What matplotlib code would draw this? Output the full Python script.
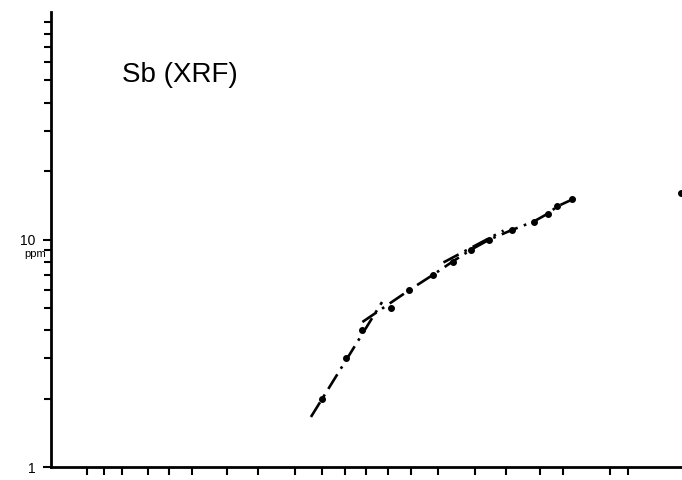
import numpy as np
import matplotlib
matplotlib.use('Agg')
import matplotlib.pyplot as plt
from statistics import NormalDist

# cumulative frequency (%) and Sb content (ppm)
cum_pct = [30.0, 40.5, 48.2, 61.5, 69.5, 78.5, 84.6, 89.1, 92.7, 95.7, 97.6, 98.4, 98.8, 99.25, 99.99]
sb_ppm = [2, 3, 4, 5, 6, 7, 8, 9, 10, 11, 12, 13, 14, 15, 16]

# hand drawn population lines
low_pct = [25.7, 57.4]
low_ppm = [1.66, 5.31]
# upper curve: starts at the crossing, then follows the points up to 15 ppm
high_pct = [48.2] + cum_pct[4:14] + [99.32]
high_ppm = [4.34] + sb_ppm[4:14] + [15.1]
mid_pct = [81.9, 94.75]
mid_ppm = [7.93, 10.95]

prob_ticks = [0.05, 0.1, 0.2, 0.5, 1, 2, 5, 10, 20, 30, 40, 50, 60, 70, 80, 90, 95, 98, 99, 99.8, 99.9]

nd = NormalDist()
_ppf = np.vectorize(lambda v: nd.inv_cdf(v / 100.0), otypes=[float])
_cdf = np.vectorize(lambda v: nd.cdf(v) * 100.0, otypes=[float])

def fwd(p):
    p = np.clip(np.asarray(p, dtype=float), 1e-9, 100 - 1e-9)
    return _ppf(p)

def inv(z):
    return _cdf(np.asarray(z, dtype=float))

fig = plt.figure(figsize=(6.82, 4.8), dpi=100)
ax = fig.add_axes([0.075, 0.027, 0.924, 0.948])
ax.set_xscale('function', functions=(fwd, inv))
ax.set_yscale('log')
ax.set_xlim(0.01, 99.99)
ax.set_ylim(1, 100)

dash = (0, (6.5, 2.5, 1, 2.5))
ax.plot(low_pct, low_ppm, color='black', lw=1.9, linestyle=dash)
ax.plot(high_pct, high_ppm, color='black', lw=1.9, linestyle=dash)
ax.plot(mid_pct, mid_ppm, color='black', lw=1.9, linestyle=dash)
ax.plot(cum_pct, sb_ppm, 'o', color='black', markersize=4)

# axes look
for s in ['top', 'right']:
    ax.spines[s].set_visible(False)
for s in ['left', 'bottom']:
    ax.spines[s].set_linewidth(2)

ax.set_xticks(prob_ticks)
ax.set_xticklabels([])
ax.xaxis.set_minor_locator(matplotlib.ticker.NullLocator())
ax.tick_params(axis='x', which='major', direction='out', length=6, width=1.5)

ax.set_yticks([1, 10])
ax.set_yticklabels(['1', '10'], fontsize=10, family='Liberation Sans')
ax.yaxis.set_minor_locator(matplotlib.ticker.LogLocator(base=10, subs=np.arange(2, 10)))
ax.yaxis.set_minor_formatter(matplotlib.ticker.NullFormatter())
ax.tick_params(axis='y', which='major', direction='out', length=6, width=1.5, pad=5)
ax.tick_params(axis='y', which='minor', direction='out', length=5, width=1.5)

fig.text(0.052, 0.47, 'ppm', fontsize=8, family='Liberation Sans', ha='center', va='center')
ax.text(0.113, 0.862, 'Sb (XRF)', transform=ax.transAxes, fontsize=20,
        family='Liberation Sans', ha='left', va='center')

fig.savefig('out.png', dpi=100)
